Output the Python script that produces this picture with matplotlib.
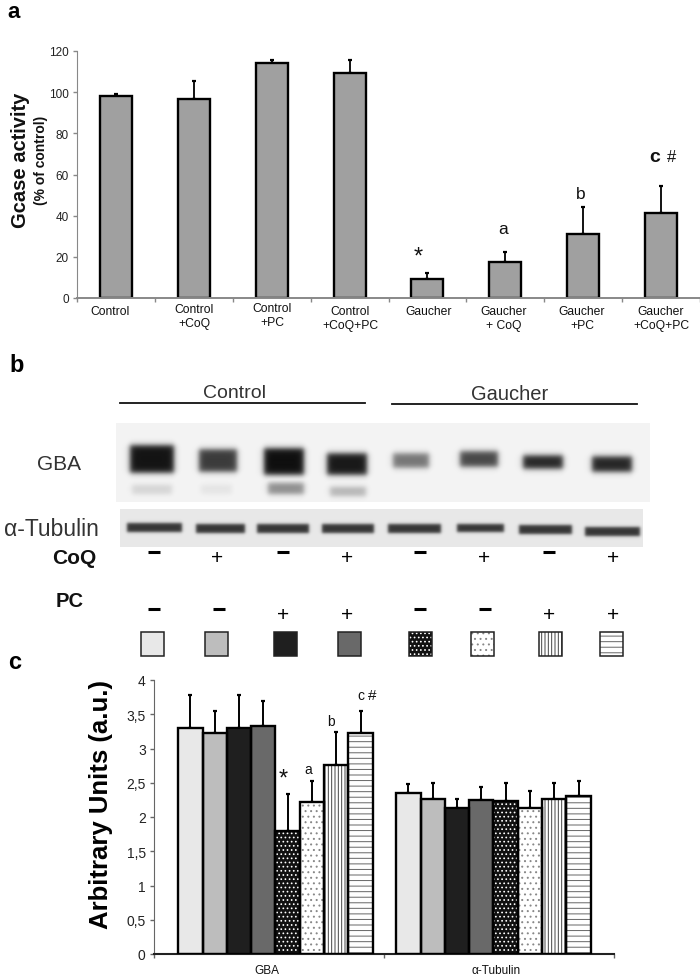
import numpy as np
import matplotlib
matplotlib.use("Agg")
import matplotlib.pyplot as plt
from matplotlib.patches import Rectangle

plt.rcParams['font.family'] = ['Liberation Sans', 'DejaVu Sans']
plt.rcParams['hatch.linewidth'] = 0.7

W, H = 700, 978

# panel a
a_labels = ['Control', 'Control\n+CoQ', 'Control\n+PC', 'Control\n+CoQ+PC',
            'Gaucher', 'Gaucher\n+ CoQ', 'Gaucher\n+PC', 'Gaucher\n+CoQ+PC']
a_values = [98.3, 96.5, 114, 109.5, 9, 17.5, 31, 41.5]
a_tops = [99, 105.5, 115.5, 115.5, 12, 22.5, 44, 54.5]

# panel b
coq_signs = ['-', '+', '-', '+', '-', '+', '-', '+']
pc_signs = ['-', '-', '+', '+', '-', '-', '+', '+']
# x from, x to, y from, y to, darkness
gba_bands = [(130, 174, 447, 474, 0.97), (199, 237, 451, 473, 0.80),
             (264, 304, 450, 476, 0.99), (327, 367, 455, 476, 0.95),
             (393, 429, 455, 469, 0.55), (460, 498, 453, 468, 0.75),
             (523, 563, 457, 470, 0.90), (592, 632, 458, 473, 0.90),
             (132, 172, 486, 495, 0.14), (201, 232, 486, 495, 0.07),
             (268, 304, 484, 495, 0.45), (330, 366, 488, 497, 0.28)]
tub_bands = [(127, 182, 524, 533, 0.82), (196, 245, 525, 534, 0.82),
             (257, 309, 525, 534, 0.82), (322, 374, 525, 534, 0.82),
             (388, 441, 525, 534, 0.82), (457, 504, 525, 533, 0.82),
             (519, 572, 526, 535, 0.82), (585, 640, 528, 537, 0.82)]

# panel c
c_groups = ['GBA', 'α-Tubulin']
gba_values = [3.3, 3.22, 3.3, 3.33, 1.8, 2.22, 2.76, 3.22]
gba_tops = [3.78, 3.55, 3.78, 3.7, 2.33, 2.52, 3.24, 3.55]
tub_values = [2.35, 2.27, 2.13, 2.25, 2.23, 2.13, 2.27, 2.3]
tub_tops = [2.48, 2.5, 2.27, 2.44, 2.5, 2.38, 2.5, 2.52]
c_ticks = [0, 0.5, 1, 1.5, 2, 2.5, 3, 3.5, 4]
c_ticklabels = ['0', '0,5', '1', '1,5', '2', '2,5', '3', '3,5', '4']

# facecolor, hatch, hatch colour
styles = [('#e8e8e8', None, 'black'), ('#bdbdbd', None, 'black'),
          ('#1f1f1f', None, 'black'), ('#696969', None, 'black'),
          ('#111111', '....', 'white'), ('white', '...', '#888888'),
          ('white', '|||||', '#444444'), ('white', '---', '#666666')]


def px_axes(fig, x0, y0, x1, y1):
    # pixel box with y counted from the top
    return fig.add_axes([x0 / W, 1 - y1 / H, (x1 - x0) / W, (y1 - y0) / H])


def px_text(x, y, s, **kw):
    kw.setdefault('ha', 'center')
    kw.setdefault('va', 'center')
    kw.setdefault('color', '#111111')
    fig.text(x / W, 1 - y / H, s, **kw)


def clean_axes(ax):
    ax.spines['top'].set_visible(False)
    ax.spines['right'].set_visible(False)


def blot(box, bands, background, blur):
    x0, x1, y0, y1 = box
    xx, yy = np.meshgrid(np.arange(x0, x1) + 0.5, np.arange(y0, y1) + 0.5)
    dark = np.zeros(xx.shape)
    for bx0, bx1, by0, by1, d in bands:
        fx = 0.5 * (np.tanh((xx - bx0) / blur) - np.tanh((xx - bx1) / blur))
        fy = 0.5 * (np.tanh((yy - by0) / blur) - np.tanh((yy - by1) / blur))
        dark = np.maximum(dark, d * fx * fy)
    img = background * (1 - dark) + 0.05 * dark
    ax = px_axes(fig, x0, y0, x1, y1)
    ax.imshow(img, cmap='gray', vmin=0, vmax=1, aspect='auto')
    ax.axis('off')


def group_bars(ax, centre, values, tops):
    width = 0.1057
    xs = centre + (np.arange(8) - 3.5) * width
    ax.errorbar(xs, values, yerr=[np.zeros(8), np.array(tops) - np.array(values)],
                fmt='none', ecolor='black', elinewidth=1.4, capsize=1.6, capthick=1.6, zorder=1)
    for x, v, (fc, hatch, hc) in zip(xs, values, styles):
        ax.bar(x, v, width, facecolor=fc, hatch=hatch, edgecolor=hc, linewidth=0, zorder=2)
        ax.bar(x, v, width, fill=False, edgecolor='black', linewidth=1.7, zorder=3)


fig = plt.figure(figsize=(W / 100, H / 100), dpi=100)

# ---- a ----
ax = px_axes(fig, 77, 52, 700, 299)
x = np.arange(8)
ax.errorbar(x, a_values, yerr=[np.zeros(8), np.array(a_tops) - np.array(a_values)],
            fmt='none', ecolor='black', elinewidth=1.3, capsize=1.6, capthick=1.6, zorder=1)
ax.bar(x, a_values, 0.41, color='#a0a0a0', edgecolor='black', linewidth=1.7, zorder=2)
ax.set_xlim(-0.5, 7.5)
ax.set_ylim(0, 120)
ax.set_yticks(range(0, 121, 20))
ax.set_xticks(np.arange(-0.5, 8))
ax.set_xticklabels([])
ax.tick_params(axis='both', colors='#888888', length=3, width=1, labelsize=8.5, labelcolor='#222222', pad=3)
clean_axes(ax)
ax.spines['left'].set_color('#888888')
ax.spines['bottom'].set_color('#888888')
ax.spines['bottom'].set_linewidth(1.4)

a_label_x = [110, 194, 272, 350, 429, 504, 582, 661]
a_label_y = [312, 317, 316, 319, 312, 319, 319, 319]
for lx, ly, s in zip(a_label_x, a_label_y, a_labels):
    px_text(lx, ly, s, fontsize=8.7, linespacing=1.15)

px_text(21, 160, 'Gcase activity', fontsize=14.5, fontweight='bold', rotation=90)
px_text(41, 160, '(% of control)', fontsize=10, fontweight='bold', rotation=90)
px_text(418, 258, '*', fontsize=17)
px_text(503, 229, 'a', fontsize=12.5)
px_text(581, 195, 'b', fontsize=12.5)
px_text(655, 157, 'c', fontsize=14, fontweight='bold')
px_text(672, 157, '#', fontsize=12)

# ---- b ----
blot((116, 650, 424, 503), gba_bands, 0.955, 3.2)
blot((120, 643, 510, 548), tub_bands, 0.91, 1.8)

line_ax = px_axes(fig, 0, 0, W, H)
line_ax.set_xlim(0, W)
line_ax.set_ylim(H, 0)
line_ax.axis('off')
line_ax.patch.set_alpha(0)
line_ax.plot([120, 365], [404, 404], color='#111111', lw=1.3)
line_ax.plot([392, 637], [405, 405], color='#111111', lw=1.3)

px_text(235, 393, 'Control', fontsize=14, color='#333333')
px_text(510, 395, 'Gaucher', fontsize=14.5, color='#333333')
px_text(59, 465, 'GBA', fontsize=15, color='#333333')
px_text(51, 529, 'α-Tubulin', fontsize=16.5, color='#333333')
px_text(74, 558, 'CoQ', fontsize=15, fontweight='bold')
px_text(70, 602, 'PC', fontsize=14.5, fontweight='bold')
px_text(17, 366, 'b', fontsize=17, fontweight='bold', color='black')
px_text(14, 12, 'a', fontsize=16, fontweight='bold', color='black')
px_text(15, 663, 'c', fontsize=17, fontweight='bold', color='black')

sign_x = [154, 217, 283, 347, 420, 484, 549, 613]
sign_pc_x = [154, 219, 283, 347, 420, 485, 549, 613]
swatch_x0 = [141, 205, 274, 338, 409, 471, 539, 600]
for sx, c in zip(sign_x, coq_signs):
    if c == '-':
        line_ax.plot([sx - 6, sx + 6], [553, 553], color='black', lw=2.2, solid_capstyle='butt')
    else:
        px_text(sx, 558, '+', fontsize=15, color='black')
for sx, c in zip(sign_pc_x, pc_signs):
    if c == '-':
        line_ax.plot([sx - 6, sx + 6], [610, 610], color='black', lw=2.2, solid_capstyle='butt')
    else:
        px_text(sx, 616, '+', fontsize=15, color='black')
for sx, (fc, hatch, hc) in zip(swatch_x0, styles):
    line_ax.add_patch(Rectangle((sx, 633), 23, 24, facecolor=fc, hatch=hatch, edgecolor=hc, linewidth=0))
    line_ax.add_patch(Rectangle((sx, 633), 23, 24, fill=False, edgecolor='#222222', linewidth=1.1))

# ---- c ----
ax = px_axes(fig, 154, 681, 614, 955)
group_bars(ax, 0.528, gba_values, gba_tops)
group_bars(ax, 1.476, tub_values, tub_tops)
ax.set_xlim(0, 2)
ax.set_ylim(0, 4)
ax.set_yticks(c_ticks)
ax.set_yticklabels(c_ticklabels)
ax.set_xticks([0, 1, 2])
ax.set_xticklabels([])
ax.tick_params(axis='y', colors='#666666', length=3, width=1, labelsize=10, labelcolor='#222222', pad=3)
ax.tick_params(axis='x', colors='#666666', length=3, width=1, direction='out')
clean_axes(ax)
ax.spines['left'].set_color('#666666')
ax.spines['bottom'].set_color('#222222')
ax.spines['bottom'].set_linewidth(1.5)

px_text(267, 971, c_groups[0], fontsize=8.5)
px_text(496, 971, c_groups[1], fontsize=8.5)
px_text(101, 805, 'Arbitrary Units (a.u.)', fontsize=18.5, fontweight='bold', rotation=90, color='black')
px_text(283, 780, '*', fontsize=17)
px_text(308, 770, 'a', fontsize=10)
px_text(331, 722, 'b', fontsize=10)
px_text(361, 696, 'c', fontsize=10)
px_text(372, 696, '#', fontsize=11)

fig.savefig('out.png', dpi=100)
